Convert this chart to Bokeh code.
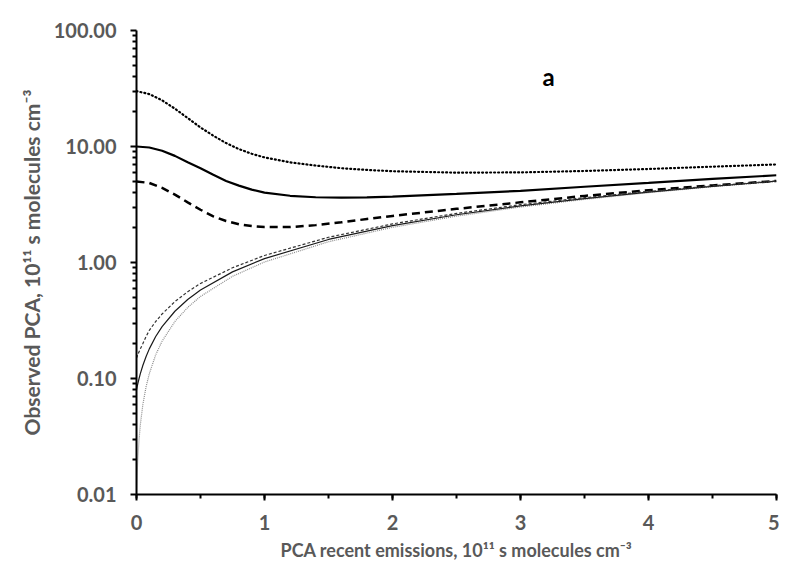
from bokeh.plotting import figure
from bokeh.models import (LogAxis, LinearAxis, FixedTicker, PrintfTickFormatter,
                          SingleIntervalTicker, Label, Range1d, LogScale)
from bokeh.embed import file_html
from bokeh.resources import INLINE

# ---- data ----
x_upper = [0, 0.1, 0.2, 0.3, 0.4, 0.5, 0.6, 0.7, 0.8, 0.9, 1.0, 1.2, 1.4, 1.6, 1.8,
           2.0, 2.5, 3.0, 3.5, 4.0, 4.5, 5.0]
upper_dotted = [30, 28.3, 25, 21.2, 17.6, 14.6, 12.4, 10.7, 9.5, 8.65, 8.05, 7.3, 6.85, 6.5, 6.28,
                6.12, 5.95, 5.98, 6.15, 6.4, 6.7, 7.0]
upper_solid = [10, 9.8, 9.2, 8.3, 7.3, 6.5, 5.7, 5.05, 4.6, 4.25, 4.0, 3.76, 3.65, 3.62, 3.64,
               3.7, 3.9, 4.15, 4.5, 4.85, 5.25, 5.65]
upper_dashed = [5.0, 4.85, 4.4, 3.85, 3.3, 2.85, 2.5, 2.28, 2.14, 2.06, 2.02, 2.02, 2.1, 2.22, 2.37,
                2.52, 2.9, 3.3, 3.75, 4.2, 4.62, 5.05]

x_lower = [0, 0.005, 0.01, 0.02, 0.03, 0.05, 0.075, 0.1, 0.15, 0.2, 0.3, 0.4, 0.5, 0.75,
           1.0, 1.5, 2.0, 2.5, 3.0, 3.5, 4.0, 4.5, 5.0]
lower_dashed = [0.15, 0.155, 0.16, 0.17, 0.18, 0.2, 0.23, 0.26, 0.31, 0.36, 0.46, 0.56, 0.66, 0.9,
                1.15, 1.65, 2.15, 2.65, 3.15, 3.62, 4.1, 4.58, 5.05]
lower_solid = [0.08, 0.085, 0.09, 0.1, 0.11, 0.13, 0.155, 0.18, 0.23, 0.28, 0.38, 0.48, 0.58, 0.83,
               1.08, 1.58, 2.08, 2.58, 3.08, 3.56, 4.05, 4.53, 5.02]
lower_dotted = [0.01, 0.015, 0.02, 0.03, 0.04, 0.06, 0.085, 0.11, 0.16, 0.21, 0.31, 0.41, 0.51, 0.76,
                1.01, 1.51, 2.01, 2.51, 3.01, 3.5, 4.0, 4.5, 5.0]

y_major = [0.01, 0.1, 1, 10, 100]
x_title = "PCA recent emissions, 10¹¹ s molecules cm⁻³"
y_title = "Observed PCA, 10¹¹ s molecules cm⁻³"
panel_label = "a"

FONT = "Lato"
GRAY = "#595959"

p = figure(width=779, height=567, output_backend="svg", toolbar_location=None,
           y_axis_type=None, x_axis_type=None,
           x_range=Range1d(0, 5), y_range=Range1d(0.01, 100),
           min_border_left=136, min_border_right=3, min_border_top=30, min_border_bottom=73)
p.y_scale = LogScale()
p.outline_line_color = None
p.xgrid.visible = False
p.ygrid.visible = False

minor = [k * m for m in y_major[:-1] for k in range(2, 10)]
yax = LogAxis(ticker=FixedTicker(ticks=y_major, minor_ticks=minor),
              formatter=PrintfTickFormatter(format="%.2f"))
xax = LinearAxis(ticker=SingleIntervalTicker(interval=1, num_minor_ticks=2))
for ax in (xax, yax):
    ax.axis_line_color = "black"
    ax.axis_line_width = 2
    ax.major_tick_line_color = "black"
    ax.major_tick_line_width = 2
    ax.minor_tick_line_color = "black"
    ax.minor_tick_line_width = 2
    ax.major_tick_in = 0
    ax.major_tick_out = 6
    ax.minor_tick_in = 0
    ax.minor_tick_out = 4
    ax.major_label_text_font = FONT
    ax.major_label_text_font_style = "bold"
    ax.major_label_text_color = GRAY
    ax.major_label_text_font_size = "20px"
    ax.axis_label_text_font = FONT
    ax.axis_label_text_font_style = "bold"
    ax.axis_label_text_color = GRAY
yax.axis_label = y_title
xax.axis_label = x_title
xax.axis_label_text_font_size = "18px"
yax.axis_label_text_font_size = "21px"
yax.major_label_standoff = 14
yax.axis_label_standoff = 7
xax.major_label_standoff = 14
xax.axis_label_standoff = 6
p.add_layout(yax, "left")
p.add_layout(xax, "below")

p.line(x_upper, upper_dotted, line_color="black", line_width=2.2, line_dash="1 3", line_cap="round")
p.line(x_upper, upper_solid, line_color="black", line_width=2.2)
p.line(x_upper, upper_dashed, line_color="black", line_width=2.5, line_dash="8 5")
p.line(x_lower, lower_dotted, line_color="#8c8c8c", line_width=1.2, line_dash="1 1")
p.line(x_lower, lower_solid, line_color="#1a1a1a", line_width=1.2)
p.line(x_lower, lower_dashed, line_color="#333333", line_width=1.2, line_dash="3 2")

p.add_layout(Label(x=3.22, y=40, text=panel_label, text_font=FONT, text_font_style="bold",
                   text_font_size="24px", text_color="black", text_align="center",
                   text_baseline="middle"))

open("out.html", "w").write(file_html(p, INLINE))
